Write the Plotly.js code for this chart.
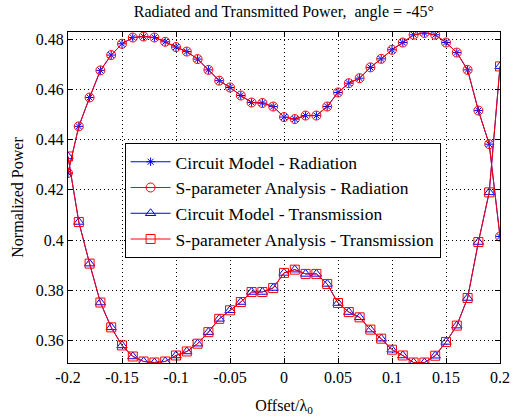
<!DOCTYPE html>
<html><head><meta charset="utf-8">
<script src="https://cdn.plot.ly/plotly-3.0.1.min.js"></script>
<style>html,body{margin:0;padding:0;background:#fff}#chart{width:515px;height:416px}</style>
</head><body><div id="chart"></div>
<script>
const offset = [-0.2,-0.19,-0.18,-0.17,-0.16,-0.15,-0.14,-0.13,-0.12,-0.11,-0.1,-0.09,-0.08,-0.07,-0.06,-0.05,-0.04,-0.03,-0.02,-0.01,0,0.01,0.02,0.03,0.04,0.05,0.06,0.07,0.08,0.09,0.1,0.11,0.12,0.13,0.14,0.15,0.16,0.17,0.18,0.19,0.2];
const circuitRadiation = [0.4267,0.4453,0.4568,0.4676,0.4737,0.4782,0.4807,0.4811,0.4807,0.4790,0.4769,0.4751,0.4721,0.4678,0.4635,0.4608,0.4576,0.4548,0.4546,0.4532,0.4490,0.4482,0.4496,0.4496,0.4532,0.4588,0.4625,0.4645,0.4688,0.4722,0.4758,0.4787,0.4818,0.4825,0.4818,0.4787,0.4747,0.4678,0.4516,0.4382,0.4014];
const sparamRadiation = [0.4267,0.4453,0.4568,0.4676,0.4737,0.4782,0.4807,0.4811,0.4807,0.4790,0.4769,0.4751,0.4721,0.4678,0.4635,0.4608,0.4576,0.4548,0.4546,0.4532,0.4490,0.4482,0.4496,0.4496,0.4532,0.4588,0.4625,0.4645,0.4688,0.4722,0.4758,0.4787,0.4818,0.4825,0.4818,0.4787,0.4747,0.4678,0.4516,0.4382,0.4014];
const circuitTransmission = [0.4333,0.4072,0.3906,0.3751,0.3652,0.3580,0.3536,0.3516,0.3512,0.3516,0.3540,0.3556,0.3587,0.3633,0.3686,0.3720,0.3753,0.3793,0.3793,0.3809,0.3869,0.3882,0.3865,0.3865,0.3825,0.3749,0.3713,0.3692,0.3643,0.3607,0.3563,0.3540,0.3512,0.3512,0.3539,0.3594,0.3659,0.3769,0.3992,0.4190,0.4692];
const sparamTransmission = [0.4333,0.4072,0.3906,0.3751,0.3652,0.3580,0.3536,0.3516,0.3512,0.3516,0.3540,0.3556,0.3587,0.3633,0.3686,0.3720,0.3753,0.3793,0.3793,0.3809,0.3869,0.3882,0.3865,0.3865,0.3825,0.3749,0.3713,0.3692,0.3643,0.3607,0.3563,0.3540,0.3512,0.3512,0.3539,0.3594,0.3659,0.3769,0.3992,0.4190,0.4692];
const seriesNames = ['Circuit Model - Radiation','S-parameter Analysis - Radiation','Circuit Model - Transmission','S-parameter Analysis - Transmission'];
const xTicks = [-0.2,-0.15,-0.1,-0.05,0,0.05,0.1,0.15,0.2];
const xTickText = ['-0.2','-0.15','-0.1','-0.05','0','0.05','0.1','0.15','0.2'];
const yTicks = [0.36,0.38,0.4,0.42,0.44,0.46,0.48];
const yTickText = ['0.36','0.38','0.4','0.42','0.44','0.46','0.48'];

const BLUE = '#0000ff', RED = '#ff0000';
function tr(y, name, color, symbol, size) {
  return {x: offset, y: y, name: name, type: 'scatter', mode: 'lines+markers',
    line: {color: color, width: 1},
    marker: {symbol: symbol, size: size, color: color, line: {color: color, width: 1}}};
}
const data = [
  tr(circuitRadiation, seriesNames[0], BLUE, 'asterisk-open', 7),
  tr(sparamRadiation, seriesNames[1], RED, 'circle-open', 9),
  tr(circuitTransmission, seriesNames[2], BLUE, 'triangle-up-open', 9),
  tr(sparamTransmission, seriesNames[3], RED, 'square-open', 9)
];
const font = {family: 'Liberation Serif, Times New Roman, serif', color: '#000'};
const axisCommon = {showline: true, linecolor: '#000', linewidth: 1, mirror: 'ticks', ticks: 'inside', ticklen: 5, tickcolor: '#000',
  showgrid: true, gridcolor: '#000', griddash: '1px,3px', gridwidth: 1, zeroline: false, tickfont: Object.assign({size: 16}, font)};
const layout = {
  width: 515, height: 416, paper_bgcolor: '#fff', plot_bgcolor: '#fff',
  margin: {l: 68, r: 15, t: 32, b: 53},
  font: font,
  title: {text: 'Radiated and Transmitted Power,  angle = -45°', font: Object.assign({size: 16}, font), x: 0.551, xanchor: 'center', y: 0.972, yanchor: 'middle'},
  xaxis: Object.assign({}, axisCommon, {range: [-0.2, 0.2], tickvals: xTicks, ticktext: xTickText,
    title: {text: 'Offset/λ<sub>0</sub>', font: Object.assign({size: 16}, font), standoff: 15}}),
  yaxis: Object.assign({}, axisCommon, {range: [0.351, 0.4829], tickvals: yTicks, ticktext: yTickText,
    title: {text: 'Normalized Power', font: Object.assign({size: 16}, font), standoff: 8}}),
  showlegend: true,
  legend: {x: 0.131, y: 0.665, xanchor: 'left', yanchor: 'top', bgcolor: '#fff', bordercolor: '#000', borderwidth: 1,
    font: Object.assign({size: 17.5}, font), tracegroupgap: 0, itemwidth: 40}
};
Plotly.newPlot('chart', data, layout, {displayModeBar: false, staticPlot: true});
</script></body></html>
